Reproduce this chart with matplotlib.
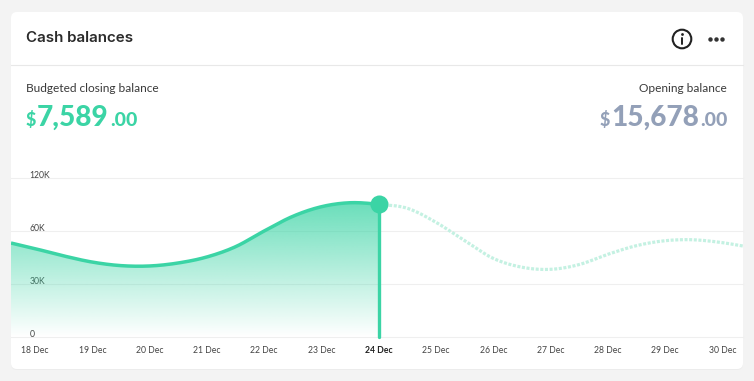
import numpy as np
import matplotlib
matplotlib.use("Agg")
import matplotlib.pyplot as plt
from matplotlib.patches import FancyBboxPatch, Circle, Polygon
from matplotlib.colors import to_rgb

# ---------- data ----------
dates = ["18 Dec", "19 Dec", "20 Dec", "21 Dec", "22 Dec", "23 Dec", "24 Dec",
         "25 Dec", "26 Dec", "27 Dec", "28 Dec", "29 Dec", "30 Dec"]
day_index = [-0.42, 0, 0.5, 1, 1.5, 2, 2.5, 3, 3.5, 4, 4.5, 5, 5.5, 6, 6.5, 7, 7.5, 8,
             8.5, 9, 9.5, 10, 10.5, 11, 11.4, 12, 12.36]
balance_k = [53.2, 50.0, 45.9, 42.4, 40.4, 40.2, 41.9, 45.3, 51.1, 60.0, 76.6, 87.5, 92.0, 90.2,
             85.7, 69.8, 54.5, 44.5, 39.5, 38.3, 41.0, 46.8, 51.7, 54.5, 55.1, 53.4, 51.5]
today_index = 6
y_ticks = [0, 30, 60, 120]
y_labels = ["0", "30K", "60K", "120K"]
title = "Cash balances"
left_label, left_int, left_cents = "Budgeted closing balance", "7,589", ".00"
right_label, right_int, right_cents = "Opening balance", "15,678", ".00"

GREEN = "#3bd4a5"
GREY = "#93a0b8"
DARK = "#2b2b2b"
W, H = 754, 381

def fwd(v):
    return np.interp(v, y_ticks, np.arange(len(y_ticks), dtype=float))
def inv(u):
    return np.interp(u, np.arange(len(y_ticks), dtype=float), y_ticks)

def smooth(xs, ys, per=24):
    """Cubic Hermite drawing path through the read points (in scale space)."""
    xs = np.asarray(xs, float); ys = fwd(np.asarray(ys, float))
    m = np.gradient(ys, xs)
    ox, oy = [], []
    for i in range(len(xs) - 1):
        h = xs[i + 1] - xs[i]
        t = np.linspace(0, 1, per, endpoint=False)
        ox.append(xs[i] + t * h)
        oy.append((2*t**3-3*t**2+1)*ys[i] + (t**3-2*t**2+t)*h*m[i]
                  + (-2*t**3+3*t**2)*ys[i+1] + (t**3-t**2)*h*m[i+1])
    ox.append([xs[-1]]); oy.append([ys[-1]])
    return np.concatenate(ox), inv(np.concatenate(oy))

fig = plt.figure(figsize=(W/100, H/100), dpi=100, facecolor="#f3f3f3")

# ---------- card layer (pixel coordinates) ----------
bg = fig.add_axes([0, 0, 1, 1], zorder=0)
bg.set_xlim(0, W); bg.set_ylim(H, 0); bg.axis("off")
bg.add_patch(FancyBboxPatch((11, 13), 732, 357, boxstyle="round,pad=0,rounding_size=6",
                            fc="#ececec", ec="none"))
bg.add_patch(FancyBboxPatch((11, 12), 732, 357, boxstyle="round,pad=0,rounding_size=6",
                            fc="white", ec="none"))
bg.plot([11, 743], [65.3, 65.3], color="#e8e8e8", lw=0.8)

# ---------- chart ----------
ax = fig.add_axes([11/W, (H-337)/H, 732/W, 159/H], zorder=1, facecolor="none")
ax.set_yscale("function", functions=(fwd, inv))
ax.set_ylim(0, 120)

sx, sy = smooth(day_index, balance_k)
mask = sx <= today_index
ax.set_yticks(y_ticks, y_labels)
ax.set_xticks(range(len(dates)), dates)
ax.set_axisbelow(True)
ax.grid(axis="y", color="#efefef", lw=0.8)
for ln in ax.get_ygridlines():
    ln.set_clip_on(False)

# gradient area
rgb = to_rgb(GREEN)
grad = np.ones((256, 2, 4))
grad[..., :3] = rgb
grad[..., 3] = np.linspace(0.9, 0.0, 256)[:, None]
poly = Polygon(np.column_stack([np.r_[sx[mask], today_index, sx[0]], np.r_[sy[mask], 0, 0]]),
               closed=True, fc="none", ec="none", transform=ax.transData)
ax.add_patch(poly)
im = ax.imshow(grad, extent=[0, 1, 0, 1], transform=ax.transAxes, aspect="auto",
               origin="upper", zorder=1, interpolation="bilinear")
im.set_clip_path(poly)

ax.plot(sx[~mask], sy[~mask], color="#c4f1e2", lw=2.3, ls=(0, (0.95, 0.5)), zorder=2,
        dash_capstyle="butt")
ax.plot(sx[mask], sy[mask], color=GREEN, lw=2.5, zorder=3, solid_capstyle="butt")
peak = balance_k[day_index.index(today_index)]
ax.plot([today_index, today_index], [0, peak], color=GREEN, lw=2.4, zorder=3,
        solid_capstyle="round", clip_on=False)
ax.plot([today_index], [peak], "o", ms=13, color=GREEN, mec="none", zorder=4, clip_on=False)

ax.set_xlim(-0.42, 12.36)
ax.set_ylim(0, 120)
for s in ax.spines.values():
    s.set_visible(False)
ax.tick_params(axis="x", length=0, pad=6.2, labelsize=6.2, labelcolor="#444444")
ax.tick_params(axis="y", length=0, pad=-13.5, labelsize=6.2, labelcolor="#444444")
for lab in ax.get_yticklabels():
    lab.set_ha("left"); lab.set_va("baseline"); lab.set_family("Lato")
for i, lab in enumerate(ax.get_xticklabels()):
    lab.set_family("Lato")
    if i == today_index:
        lab.set_fontweight("bold"); lab.set_color("#222222")

# ---------- text ----------
bg.text(26, 38, title, family="Inter", fontsize=10.9, fontweight="semibold", color=DARK, va="center")
bg.text(26, 89, left_label, family="Lato", fontsize=8.6, color="#3a3a3a", va="center")
bg.text(727, 89, right_label, family="Lato", fontsize=8.6, color="#3a3a3a", va="center", ha="right")

base = 126
def money(x, anchor, whole, cents, color, gaps):
    r = fig.canvas.get_renderer()
    parts = [("$", 12.8), (whole, 20.2), (cents, 14.0)]
    widths = []
    arts = []
    for s, size in parts:
        t = bg.text(0, base, s, family="Lato", fontweight="black", fontsize=size, color=color, va="baseline")
        arts.append(t); widths.append(t.get_window_extent(r).width)
    pos = x if anchor == "left" else x - sum(widths) - sum(gaps)
    for i, (t, w) in enumerate(zip(arts, widths)):
        t.set_x(pos)
        pos += w + (gaps[i] if i < len(gaps) else 0)

money(25.5, "left", left_int, left_cents, GREEN, (1.0, 1.5))
money(727.5, "right", right_int, right_cents, GREY, (1.5, 0.5))

# ---------- icons ----------
bg.add_patch(Circle((682, 39), 9.3, fc="none", ec="#222222", lw=1.5))
bg.plot([682, 682], [37.5, 44], color="#222222", lw=1.4, solid_capstyle="round")
bg.plot([682], [33.8], "o", ms=2.0, color="#222222", mec="none")
bg.plot([710, 716, 722], [39, 39, 39], "o", ms=3.2, color="#333333", mec="none")

fig.savefig("out.png", dpi=100, facecolor=fig.get_facecolor())
